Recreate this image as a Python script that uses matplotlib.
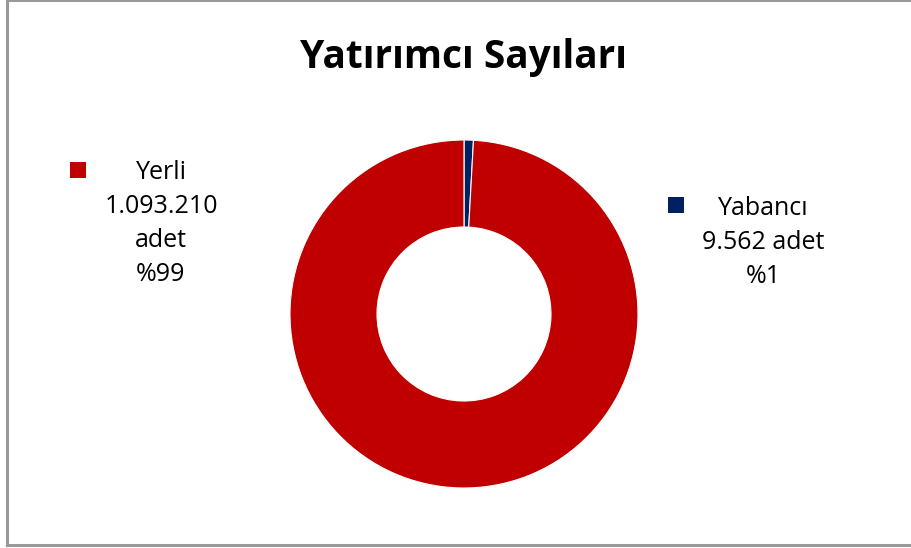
import matplotlib.pyplot as plt
from matplotlib.lines import Line2D
from matplotlib.patches import Rectangle

plt.rcParams['font.family'] = ['Open Sans', 'DejaVu Sans']

title = 'Yatırımcı Sayıları'
labels = ['Yabancı', 'Yerli']
counts = [9562, 1093210]
legend_lines = [['Yabancı', '9.562 adet', '%1'],
                ['Yerli', '1.093.210', 'adet', '%99']]
colors = ['#002060', '#C00000']

W, H = 912, 548
fig = plt.figure(figsize=(9.12, 5.48), dpi=100)

# outer frame
for xs, ys in [([7, 7], [0, 545]), ([7, 912], [545, 545]), ([7, 912], [0, 0])]:
    fig.add_artist(Line2D([x / W for x in xs], [1 - y / H for y in ys],
                          color='#999999', lw=2.2, transform=fig.transFigure))

cx, cy, r = 464, 314, 174
ax = fig.add_axes([(cx - r) / W, (H - cy - r) / H, 2 * r / W, 2 * r / H])
ax.pie(counts, colors=colors, startangle=90, counterclock=False,
       radius=1.0, wedgeprops=dict(width=0.5, edgecolor='white', linewidth=0.8))
ax.set_xlim(-1, 1)
ax.set_ylim(-1, 1)
ax.set_aspect('equal')
ax.axis('off')

fig.text(cx / W, 1 - 68 / H, title, ha='center', va='baseline',
         fontsize=28, fontweight='bold', color='black')

# legend entries (square marker + centered lines of text)
entries = [
    (legend_lines[1], colors[1], (78, 170), (161, 179)),
    (legend_lines[0], colors[0], (676, 205), (763, 215)),
]
step = 34
for lines, col, (sx, sy), (tx, ty) in entries:
    s = 16
    fig.add_artist(Rectangle(((sx - s / 2) / W, 1 - (sy + s / 2) / H), s / W, s / H,
                             facecolor=col, edgecolor='none', transform=fig.transFigure))
    for i, line in enumerate(lines):
        fig.text(tx / W, 1 - (ty + i * step) / H, line, ha='center', va='baseline',
                 fontsize=18, color='black')

fig.savefig('out.png', dpi=100)
